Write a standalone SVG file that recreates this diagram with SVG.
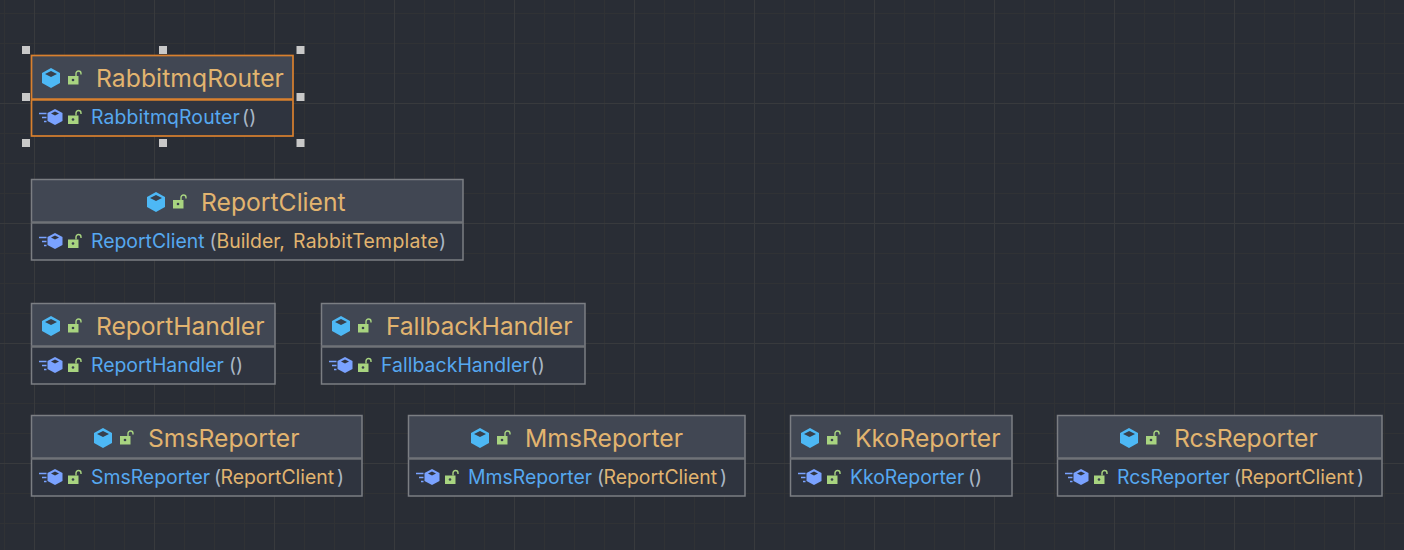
<svg xmlns="http://www.w3.org/2000/svg" width="1404" height="550" viewBox="0 0 1404 550">
<style>
.h{fill:#414753}.b{fill:#2f343f}.f{fill:none;stroke:#7b7e83;stroke-width:1.5}.d{stroke:#6f7277;stroke-width:2.5}
.s{stroke:#d9802e}.sf{fill:none;stroke:#d9802e;stroke-width:1.7}
text{font-family:Inter,"Noto Sans",sans-serif}
.t{font-size:24.700px;fill:#e2b46f}.m{font-size:19.400px;fill:#56a8f0}.p{fill:#a9b7c6}.a{fill:#e2b46f}
.g1{stroke:#303235;stroke-width:1}.g2{stroke:#383a3d;stroke-width:1}.hd{fill:#c8c8c8}
</style>
<defs>
<g id="cube"><path d="M0-10 9-5V5L0 10-9 5V-5Z" fill="#4db8f5"/><path d="M0-7 6-4 0-1-6-4Z" fill="#38404c"/></g>
<g id="lock"><rect x="-6" y="-2" width="10.500" height="8.500" fill="#a8d480"/><circle cx="-1" cy="2" r="1.300" fill="#38404c"/><path d="M2-2V-4.500A2.500 2.500 0 0 1 7-4.500V-3.500" fill="none" stroke="#a8d480" stroke-width="1.400"/></g>
<g id="ctor"><path d="M0-8 7.500-4V4L0 8-7.500 4V-4Z" fill="#7aa2ff"/><path d="M0-5.500 4-3.500 0-1.500-4-3.500Z" fill="#2f343f"/><path d="M-16-3.500H-8.500M-13 .5H-8.500M-11 4.500H-8.500" stroke="#7aa2ff" stroke-width="1.700"/></g>
</defs>
<rect id="background" width="1404" height="550" fill="#292d35"/>
<path id="grid-minor" class="g1" d="M4.500 0V550M64.500 0V550M94.500 0V550M124.500 0V550M184.500 0V550M214.500 0V550M244.500 0V550M304.500 0V550M334.500 0V550M364.500 0V550M424.500 0V550M454.500 0V550M484.500 0V550M544.500 0V550M574.500 0V550M604.500 0V550M664.500 0V550M694.500 0V550M724.500 0V550M784.500 0V550M814.500 0V550M844.500 0V550M904.500 0V550M934.500 0V550M964.500 0V550M1024.500 0V550M1054.500 0V550M1084.500 0V550M1144.500 0V550M1174.500 0V550M1204.500 0V550M1264.500 0V550M1294.500 0V550M1324.500 0V550M1384.500 0V550M0 13.500H1404M0 43.500H1404M0 73.500H1404M0 133.500H1404M0 163.500H1404M0 193.500H1404M0 253.500H1404M0 283.500H1404M0 313.500H1404M0 373.500H1404M0 403.500H1404M0 433.500H1404M0 493.500H1404M0 523.500H1404"/>
<path id="grid-major" class="g2" d="M34.500 0V550M154.500 0V550M274.500 0V550M394.500 0V550M514.500 0V550M634.500 0V550M754.500 0V550M874.500 0V550M994.500 0V550M1114.500 0V550M1234.500 0V550M1354.500 0V550M0 103.500H1404M0 223.500H1404M0 343.500H1404M0 463.500H1404"/>
<g id="connectors"></g>

<g id="RabbitmqRouter">
<rect class="h" x="31" y="55" width="262" height="44"/><rect class="b" x="31" y="99" width="262" height="37"/>
<rect class="sf" x="31.500" y="55.500" width="261.500" height="80.500"/><path class="d s" d="M31 99.500H293"/>
<use href="#cube" x="51" y="78"/><use href="#lock" x="74" y="78"/>
<text class="t" x="96" y="87" letter-spacing=".06">RabbitmqRouter</text>
<use href="#ctor" x="55" y="117"/><use href="#lock" x="74" y="117.500"/>
<text class="m" x="91" y="123.500" letter-spacing=".14">RabbitmqRouter<tspan class="p" x="242">()</tspan></text>
<g class="hd"><rect x="22" y="46" width="8" height="8"/><rect x="159" y="46" width="8" height="8"/><rect x="296.500" y="46" width="8" height="8"/><rect x="22" y="93" width="8" height="8"/><rect x="296.500" y="93" width="8" height="8"/><rect x="22" y="139" width="8" height="8"/><rect x="159" y="139" width="8" height="8"/><rect x="296.500" y="139" width="8" height="8"/></g>
</g>

<g id="ReportClient">
<rect class="h" x="31" y="179" width="432" height="44"/><rect class="b" x="31" y="223" width="432" height="37"/>
<rect class="f" x="31.500" y="179.500" width="431.500" height="80.500"/><path class="d" d="M31 222.500H463"/>
<use href="#cube" x="156" y="202"/><use href="#lock" x="179" y="202"/>
<text class="t" x="201" y="211">ReportClient</text>
<use href="#ctor" x="55" y="241"/><use href="#lock" x="74" y="241.500"/>
<text class="m" x="91" y="247.500">ReportClient<tspan class="p" x="209.500">(</tspan><tspan class="a" x="216.500">Builder,</tspan><tspan class="a" x="293" letter-spacing=".3">RabbitTemplate</tspan><tspan class="p" x="439">)</tspan></text>
</g>

<g id="ReportHandler">
<rect class="h" x="31" y="303" width="244" height="44"/><rect class="b" x="31" y="347" width="244" height="37"/>
<rect class="f" x="31.500" y="303.500" width="243.500" height="80.500"/><path class="d" d="M31 346.500H275"/>
<use href="#cube" x="51" y="326"/><use href="#lock" x="74" y="326"/>
<text class="t" x="96" y="335" letter-spacing="-.06">ReportHandler</text>
<use href="#ctor" x="55" y="365"/><use href="#lock" x="74" y="365.500"/>
<text class="m" x="91" y="371.500">ReportHandler<tspan class="p" x="229">()</tspan></text>
</g>

<g id="FallbackHandler">
<rect class="h" x="321" y="303" width="264" height="44"/><rect class="b" x="321" y="347" width="264" height="37"/>
<rect class="f" x="321.500" y="303.500" width="263.500" height="80.500"/><path class="d" d="M321 346.500H585"/>
<use href="#cube" x="341" y="326"/><use href="#lock" x="364" y="326"/>
<text class="t" x="386" y="335" letter-spacing="-.13">FallbackHandler</text>
<use href="#ctor" x="345" y="365"/><use href="#lock" x="364" y="365.500"/>
<text class="m" x="381" y="371.500" letter-spacing=".06">FallbackHandler<tspan class="p" x="530.500">()</tspan></text>
</g>

<g id="SmsReporter">
<rect class="h" x="31" y="415" width="331" height="44"/><rect class="b" x="31" y="459" width="331" height="37"/>
<rect class="f" x="31.500" y="415.500" width="330.500" height="80.500"/><path class="d" d="M31 458.500H362"/>
<use href="#cube" x="103" y="438"/><use href="#lock" x="126" y="438"/>
<text class="t" x="148" y="447">SmsReporter</text>
<use href="#ctor" x="55" y="477"/><use href="#lock" x="74" y="477.500"/>
<text class="m" x="91" y="483.500">SmsReporter<tspan class="p" x="214">(</tspan><tspan class="a" x="220.500">ReportClient</tspan><tspan class="p" x="337">)</tspan></text>
</g>

<g id="MmsReporter">
<rect class="h" x="408" y="415" width="337" height="44"/><rect class="b" x="408" y="459" width="337" height="37"/>
<rect class="f" x="408.500" y="415.500" width="336.500" height="80.500"/><path class="d" d="M408 458.500H745"/>
<use href="#cube" x="480" y="438"/><use href="#lock" x="503" y="438"/>
<text class="t" x="525" y="447">MmsReporter</text>
<use href="#ctor" x="432" y="477"/><use href="#lock" x="451" y="477.500"/>
<text class="m" x="468" y="483.500">MmsReporter<tspan class="p" x="597">(</tspan><tspan class="a" x="603.500">ReportClient</tspan><tspan class="p" x="720">)</tspan></text>
</g>

<g id="KkoReporter">
<rect class="h" x="790" y="415" width="222" height="44"/><rect class="b" x="790" y="459" width="222" height="37"/>
<rect class="f" x="790.500" y="415.500" width="221.500" height="80.500"/><path class="d" d="M790 458.500H1012"/>
<use href="#cube" x="810" y="438"/><use href="#lock" x="833" y="438"/>
<text class="t" x="855" y="447">KkoReporter</text>
<use href="#ctor" x="814" y="477"/><use href="#lock" x="833" y="477.500"/>
<text class="m" x="850" y="483.500">KkoReporter<tspan class="p" x="968">()</tspan></text>
</g>

<g id="RcsReporter">
<rect class="h" x="1057" y="415" width="325" height="44"/><rect class="b" x="1057" y="459" width="325" height="37"/>
<rect class="f" x="1057.500" y="415.500" width="324.500" height="80.500"/><path class="d" d="M1057 458.500H1382"/>
<use href="#cube" x="1129" y="438"/><use href="#lock" x="1152" y="438"/>
<text class="t" x="1174" y="447">RcsReporter</text>
<use href="#ctor" x="1081" y="477"/><use href="#lock" x="1100" y="477.500"/>
<text class="m" x="1117" y="483.500">RcsReporter<tspan class="p" x="1234">(</tspan><tspan class="a" x="1240.500">ReportClient</tspan><tspan class="p" x="1357">)</tspan></text>
</g>
</svg>
